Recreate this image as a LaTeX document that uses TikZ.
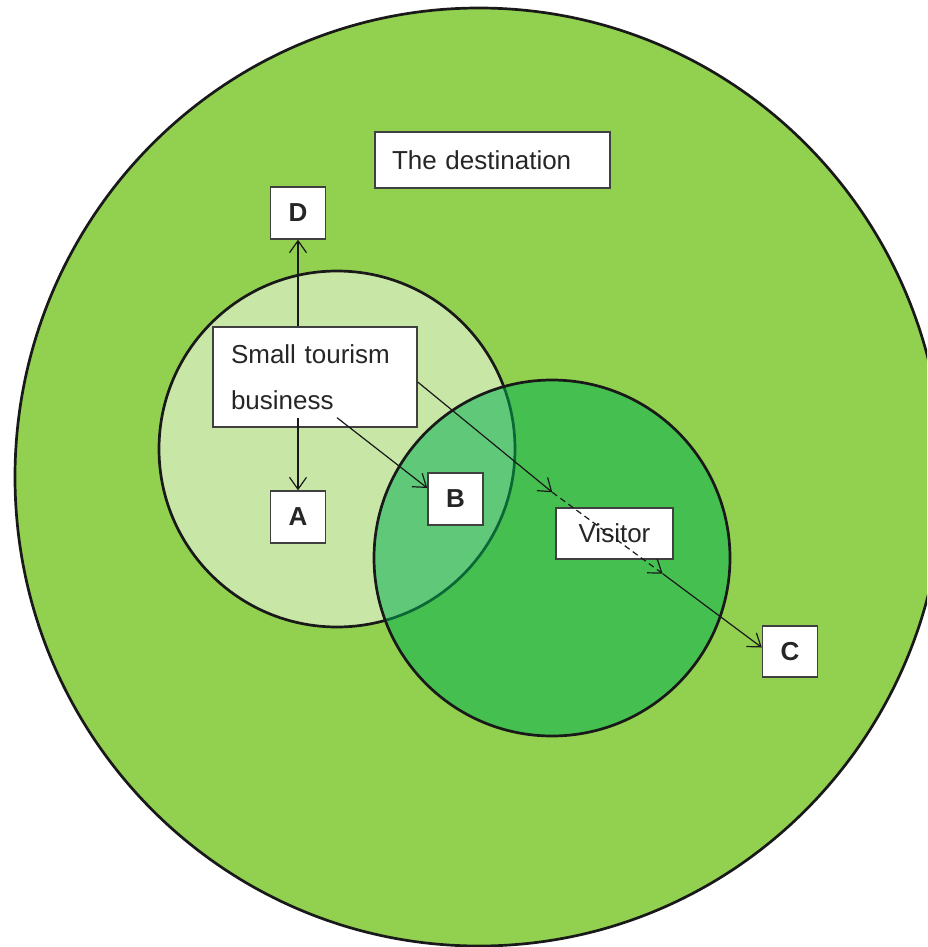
\documentclass[tikz,border=0pt]{standalone}
\usepackage{fontspec}
\setmainfont{Liberation Sans}
\usetikzlibrary{arrows.meta,calc}
\definecolor{bigg}{HTML}{92D050}
\definecolor{lightg}{RGB}{200,230,166}
\definecolor{darkg}{HTML}{00B050}
\definecolor{txt}{HTML}{262626}
\begin{document}
\begin{tikzpicture}[x=1pt,y=-1pt,
  box/.style={draw=black!75, line width=1.4pt, fill=white, text=txt, inner sep=0pt},
  lbox/.style={box, font=\fontsize{26}{26}\selectfont\bfseries, minimum width=55pt, minimum height=52pt},
  arr/.style={line width=1.2pt, draw=black!90, -{Straight Barb[length=12pt,width=17pt]}},
  ring/.style={line width=2.7pt, draw=black!90}]
\useasboundingbox (0,0) rectangle (927,947);
\begin{scope}
  \clip (0,0) rectangle (927,947);
  \path[ring, fill=bigg] (479,477) ellipse [x radius=464, y radius=469];
\end{scope}
\path[ring, fill=lightg] (337,449) circle [radius=178];
\path[ring, fill=darkg, fill opacity=0.52] (552,558) circle [radius=178];

\node[box, text width=201pt, inner xsep=17pt, minimum height=56pt, align=left,
      font=\fontsize{26}{30}\selectfont] (dest) at (492.5,160) {The destination};
\node[box, text width=168pt, inner xsep=18pt, minimum height=100pt, align=left,
      font=\fontsize{26}{46}\selectfont] (small) at (315,377) {Small tourism\\business};
\node[lbox] (D) at (298,213) {D};
\node[lbox] (A) at (298,517) {A};
\node[lbox] (B) at (455.5,499) {B};
\node[lbox, minimum height=51pt] (C) at (790,651.5) {C};
\node[box, minimum width=117pt, minimum height=51pt,
      font=\fontsize{26}{30}\selectfont] (vis) at (614.5,533.5) {Visitor};

\coordinate (v1) at ($(vis.north west)+(-3,-15)$);
\coordinate (v2) at ($(vis.south east)+(-11,14)$);

\draw[arr] (small.north -| D.south) -- (D.south);
\draw[arr] ($(small.south -| A.north)+(0,-10)$) -- (A.north);
\draw[arr] ($(small.south)+(22,-10)$) -- ($(B.west)+(0,-11)$);
\draw[arr] ($(small.east)+(0,5)$) -- (v1);
\draw[arr, dash pattern=on 6pt off 4pt] (v1) -- (v2);
\draw[arr] (v2) -- ($(C.west)+(0,-4)$);
\end{tikzpicture}
\end{document}
